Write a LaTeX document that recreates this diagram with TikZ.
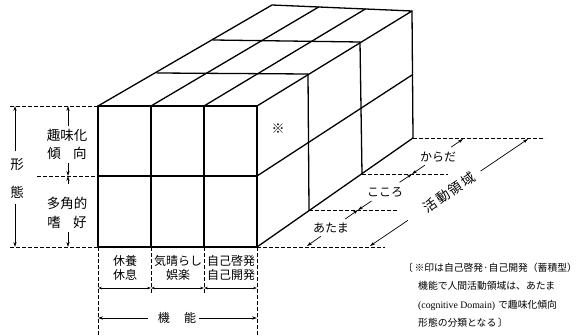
\documentclass[tikz,border=0pt]{standalone}
\usepackage{fontspec}
\setmainfont{Liberation Serif}
\newfontfamily\jp{Noto Sans CJK JP}
\newfontfamily\jpwide[LetterSpace=12]{Noto Sans CJK JP}
\usetikzlibrary{arrows.meta,calc}
\begin{document}
\begin{tikzpicture}[x=1pt,y=-1pt,
  box/.style={line width=1.3pt, line join=round, line cap=round},
  dim/.style={dash pattern=on 3.5pt off 2.5pt, line width=0.55pt},
  arr/.style={-{Stealth[length=5pt,width=3.2pt]}, line width=0.7pt},
  darr/.style={{Stealth[length=4pt,width=2.6pt]}-{Stealth[length=4pt,width=2.6pt]}, line width=0.55pt},
  lbl/.style={font=\jp\fontsize{13.5}{15}\selectfont, inner sep=0pt},
  sml/.style={font=\jp\fontsize{12}{13.5}\selectfont, inner sep=0pt, align=center},
  note/.style={font=\jp\fontsize{9.8}{11}\selectfont, inner sep=0pt, anchor=west},
]
\useasboundingbox (0,0) rectangle (577,336);
% ---- box geometry
\coordinate (L0) at (98,106);  \coordinate (L1) at (157,73);
\coordinate (L2) at (213,40);  \coordinate (L3) at (272,5);
\coordinate (R0) at (257,106); \coordinate (R1) at (308,74);
\coordinate (R2) at (360,42);  \coordinate (R3) at (412,11);
\coordinate (B0) at (257,247); \coordinate (B1) at (309,210);
\coordinate (B2) at (362,174); \coordinate (B3) at (413,138);
\coordinate (M0) at (257,176); \coordinate (M3) at (412,75);
\coordinate (FB) at (98,247);  \coordinate (FM) at (98,176);
\coordinate (C1t) at (151,106); \coordinate (C2t) at (204,106);
\coordinate (C1b) at (151,247); \coordinate (C2b) at (204,247);
% front face
\draw[box] (L0) -- (R0) -- (B0) -- (FB) -- cycle;
\draw[box] (FM) -- (M0);
\draw[box] (C1t) -- (C1b);
\draw[box] (C2t) -- (C2b);
% top face
\draw[box] (L0) -- (L3) -- (R3) -- (R0);
\draw[box] (L1) -- (R1);
\draw[box] (L2) -- (R2);
\draw[box] (C1t) -- ($(L3)!1/3!(R3)$);
\draw[box] (C2t) -- ($(L3)!2/3!(R3)$);
% right face
\draw[box] (R3) -- (B3) -- (B0);
\draw[box] (R1) -- (B1);
\draw[box] (R2) -- (B2);
\draw[box] (M0) -- (M3);
\node[font=\jp\fontsize{13}{13}\selectfont, inner sep=0pt] (kome) at (278,129) {※};
% ---- left dimension lines
\coordinate (dT0) at (10,106);  \coordinate (dM0) at (37,176); \coordinate (dB0) at (10,247);
\draw[dim] (dT0) -- (L0);
\draw[dim] (dM0) -- (FM);
\draw[dim] (dB0) -- (FB);
% outer arrow
\coordinate (oT) at (15,106); \coordinate (oB) at (15,247);
\coordinate (oT2) at (15,151); \coordinate (oB2) at (15,204);
\draw[arr] (oT2) -- (oT);
\draw[arr] (oB2) -- (oB);
\node[lbl] (kei) at (17,165) {形};
\node[lbl] (tai) at (17,192) {態};
% inner arrows
\coordinate (iT) at (68,106); \coordinate (iM) at (68,176); \coordinate (iB) at (68,247);
\coordinate (iT2) at (68,126); \coordinate (iM1) at (68,163);
\coordinate (iM2) at (68,184); \coordinate (iB2) at (68,232);
\draw[arr] (iT2) -- (iT);
\draw[arr] (iM1) -- (iM);
\draw[arr] (iM2) -- (iM);
\draw[arr] (iB2) -- (iB);
\node[lbl] (shumi1) at (67,135) {趣味化};
\node[lbl] (shumi2) at (67,153) {傾\hspace{0.9em}向};
\node[lbl] (takaku1) at (67,203) {多角的};
\node[lbl] (takaku2) at (67,222) {嗜\hspace{0.9em}好};
% ---- bottom dimension lines
\coordinate (v0) at (98,336); \coordinate (v1) at (151,294);
\coordinate (v2) at (204,294); \coordinate (v3) at (257,336);
\draw[dim] (FB) -- (v0);
\draw[dim] (C1b) -- (v1);
\draw[dim] (C2b) -- (v2);
\draw[dim] (B0) -- (v3);
\node[sml] (f1) at (125,268) {休養\\休息};
\node[sml] (f2) at (178,268) {気晴らし\\娯楽};
\node[sml] (f3) at (231,268) {自己啓発\\自己開発};
\coordinate (a0) at (98,288); \coordinate (a1) at (151,288);
\coordinate (a2) at (204,288); \coordinate (a3) at (257,288);
\draw[darr] (a0) -- (a1);
\draw[darr] (a1) -- (a2);
\draw[darr] (a2) -- (a3);
\coordinate (k0) at (98,318); \coordinate (k3) at (257,318);
\coordinate (k1) at (148,318); \coordinate (k2) at (199,318);
\draw[arr] (k1) -- (k0);
\draw[arr] (k2) -- (k3);
\node[lbl, font=\jp\fontsize{12}{13}\selectfont] (kinou) at (177,318) {機\hspace{1.2em}能};
% ---- right dimension lines
\coordinate (e0) at (385,247); \coordinate (e1) at (397,210);
\coordinate (e2) at (448,174); \coordinate (e3) at (545,138);
\draw[dim] (B0) -- (e0);
\draw[dim] (B1) -- (e1);
\draw[dim] (B2) -- (e2);
\draw[dim] (B3) -- (e3);
\coordinate (p0) at (307,246); \coordinate (p1) at (358,210);
\coordinate (p2) at (412,174); \coordinate (p3) at (463,139);
\draw[arr] ($(p0)!0.27!(p1)$) -- (p0);
\draw[arr] ($(p0)!0.75!(p1)$) -- (p1);
\draw[arr] ($(p1)!0.25!(p2)$) -- (p1);
\draw[arr] ($(p1)!0.77!(p2)$) -- (p2);
\draw[arr] ($(p2)!0.25!(p3)$) -- (p2);
\draw[arr] ($(p2)!0.77!(p3)$) -- (p3);
\node[sml] (atama) at (331,228) {あたま};
\node[sml] (kokoro) at (385,192) {こころ};
\node[sml] (karada) at (438,157) {からだ};
\coordinate (q0) at (370,246); \coordinate (q1) at (528,139);
\draw[arr] ($(q0)!0.24!(q1)$) -- (q0);
\draw[arr] ($(q0)!0.70!(q1)$) -- (q1);
\path (q0) -- node[sloped, font=\jpwide\fontsize{13.5}{14}\selectfont, inner sep=0pt] (katsudo) {活動領域} (q1);
% ---- note
\node[note] (n1) at (403,268) {〔\,※印は自己啓発·自己開発（蓄積型）};
\node[note] (n2) at (418,286) {機能で人間活動領域は、あたま};
\node[note] (n3) at (418,305) {\fontspec{Liberation Serif}(cognitive Domain)\jp\hspace{0.3em}で趣味化傾向};
\node[note] (n4) at (418,323) {形態の分類となる\,〕};
\end{tikzpicture}
\end{document}
